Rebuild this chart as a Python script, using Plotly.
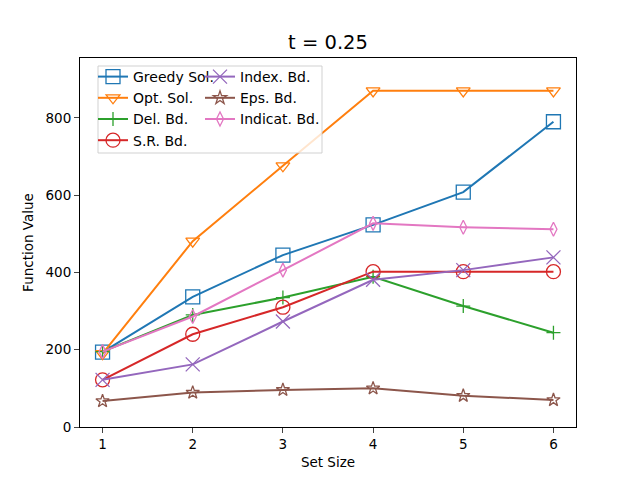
import plotly.graph_objects as go

x_vals = [1, 2, 3, 4, 5, 6]
greedy = [194, 337, 445, 523, 608, 790]
opt = [190, 481, 676, 870, 870, 870]
dele = [195, 290, 335, 389, 313, 244]
sr = [122, 240, 310, 402, 402, 402]
index = [122, 162, 273, 381, 406, 439]
eps = [67, 89, 96, 100, 81, 70]
indicat = [195, 286, 406, 527, 517, 512]

series = [
    ("Greedy Sol.", greedy, "#1f77b4", "square-open", 14, "legend", 1),
    ("Opt. Sol.", opt, "#ff7f0e", "triangle-down-open", 12, "legend", 2),
    ("Del. Bd.", dele, "#2ca02c", "cross-thin-open", 10, "legend", 3),
    ("S.R. Bd.", sr, "#d62728", "circle-open", 14, "legend", 4),
    ("Index. Bd.", index, "#9467bd", "x-thin-open", 14, "legend2", 5),
    ("Eps. Bd.", eps, "#8c564b", "star-open", 10, "legend2", 6),
    ("Indicat. Bd.", indicat, "#e377c2", "diamond-tall-open", 10, "legend2", 7),
]

fig = go.Figure()
for name, ys, col, sym, sz, leg, rank in series:
    fig.add_trace(go.Scatter(
        x=x_vals, y=ys, name=name, mode="lines+markers",
        line=dict(color=col, width=2),
        marker=dict(symbol=sym, size=sz, color=col, line=dict(color=col, width=1.3)),
        legend=leg, legendrank=rank,
    ))

font = "DejaVu Sans"
fs = 13.5
lfs = 14
fig.update_layout(
    width=640, height=480,
    margin=dict(l=80, r=64, t=58, b=53),
    paper_bgcolor="white", plot_bgcolor="white",
    font=dict(family=font, size=fs, color="black"),
    title=dict(text="t = 0.25", x=0.5125, xanchor="center", y=1 - 42 / 480, yanchor="middle",
               font=dict(size=19.5, family=font)),
    xaxis=dict(range=[0.75, 6.25], tickvals=x_vals, ticks="outside", ticklen=5, tickwidth=1,
               showline=True, linecolor="black", linewidth=1, mirror=True, showgrid=False,
               zeroline=False, automargin=False,
               title=dict(text="Set Size", font=dict(size=fs), standoff=6),
               tickfont=dict(size=fs)),
    yaxis=dict(range=[0, 955], tickvals=[0, 200, 400, 600, 800], ticks="outside", ticklen=5,
               tickwidth=1, showline=True, linecolor="black", linewidth=1, mirror=True,
               showgrid=False, zeroline=False, automargin=False,
               title=dict(text="Function Value", font=dict(size=fs), standoff=8),
               tickfont=dict(size=fs)),
    legend=dict(x=(93 - 80) / 496, y=(427 - 61) / 369, xanchor="left", yanchor="top",
                bgcolor="rgba(0,0,0,0)", borderwidth=0, font=dict(size=lfs),
                tracegroupgap=0, itemwidth=30),
    legend2=dict(x=(200 - 80) / 496, y=(427 - 61) / 369, xanchor="left", yanchor="top",
                 bgcolor="rgba(0,0,0,0)", borderwidth=0, font=dict(size=lfs),
                 tracegroupgap=0, itemwidth=30),
    shapes=[dict(type="rect", xref="paper", yref="paper",
                 x0=(98 - 80) / 496, x1=(322 - 80) / 496,
                 y0=(427 - 153) / 369, y1=(427 - 66) / 369,
                 line=dict(color="rgba(204,204,204,0.9)", width=1),
                 fillcolor="rgba(255,255,255,0.8)", layer="above")],
)

fig.write_html("out.html")
